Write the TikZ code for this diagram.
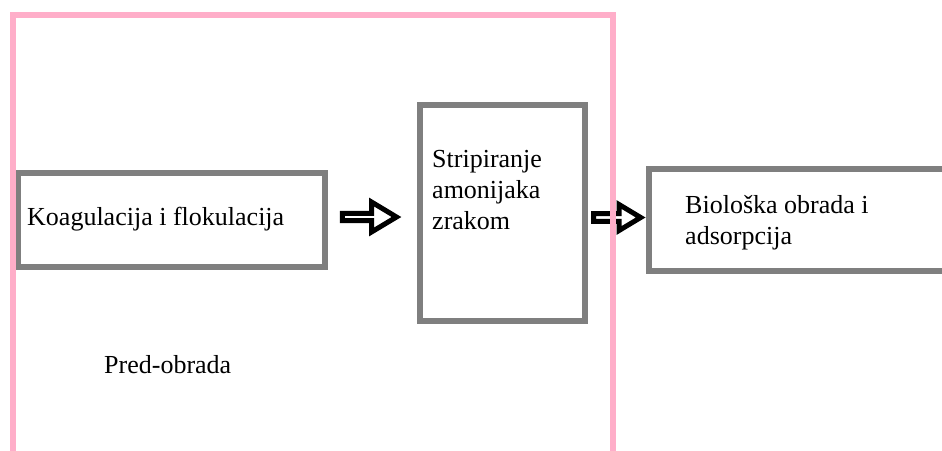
\documentclass[tikz,border=0pt]{standalone}
\usepackage{fontspec}
\setmainfont{Liberation Serif}
\usetikzlibrary{shapes.arrows,calc}
\definecolor{boxgray}{RGB}{127,127,127}
\definecolor{framepink}{RGB}{255,174,201}
\begin{document}
\begin{tikzpicture}[x=1pt,y=-1pt,
  stage/.style={draw=boxgray, line width=5.5pt, inner sep=0pt},
  txt/.style={font=\fontsize{26}{31}\selectfont, align=left, inner sep=0pt},
  pipe/.style={single arrow, draw=black, fill=white, line width=5pt,
    inner sep=0pt, single arrow tip angle=62}]
% page
\path [use as bounding box, clip] (0,0) rectangle (942,450);
\fill [white] (0,0) rectangle (942,450);
% boxes
\node [stage, minimum width=307pt, minimum height=94pt] (koag) at (171.5,220) {};
\node [stage, minimum width=165pt, minimum height=216pt] (strip) at (502.5,213) {};
\node [stage, minimum width=341pt, minimum height=102pt] (bio) at (819.5,220) {};
% labels
\node [txt, anchor=base west] (koagtxt) at (27,225) {Koagulacija i flokulacija};
\node [txt, anchor=north west] (striptxt) at (432,150) {Stripiranje\\amonijaka\\zrakom};
\node [txt, anchor=north west] (biotxt) at (685,195) {Biološka obrada i\\adsorpcija};
\node [txt, anchor=base west] (pred) at (104,373) {Pred-obrada};
% block arrows
\node [pipe, minimum height=54pt, minimum width=30pt, single arrow head extend=8pt]
  (a1) at ($(koag.east)!.5!(strip.west)+(-6,0.5)$) {};
\node [pipe, minimum height=47pt, minimum width=26pt, single arrow head extend=6pt]
  (a2) at ($(strip.east)!.5!(bio.west)+(-3,1)$) {};
% pre-treatment frame
\draw [framepink, line width=6pt] (13,470) -- (13,15) -- (613,15) -- (613,470);
\end{tikzpicture}
\end{document}
